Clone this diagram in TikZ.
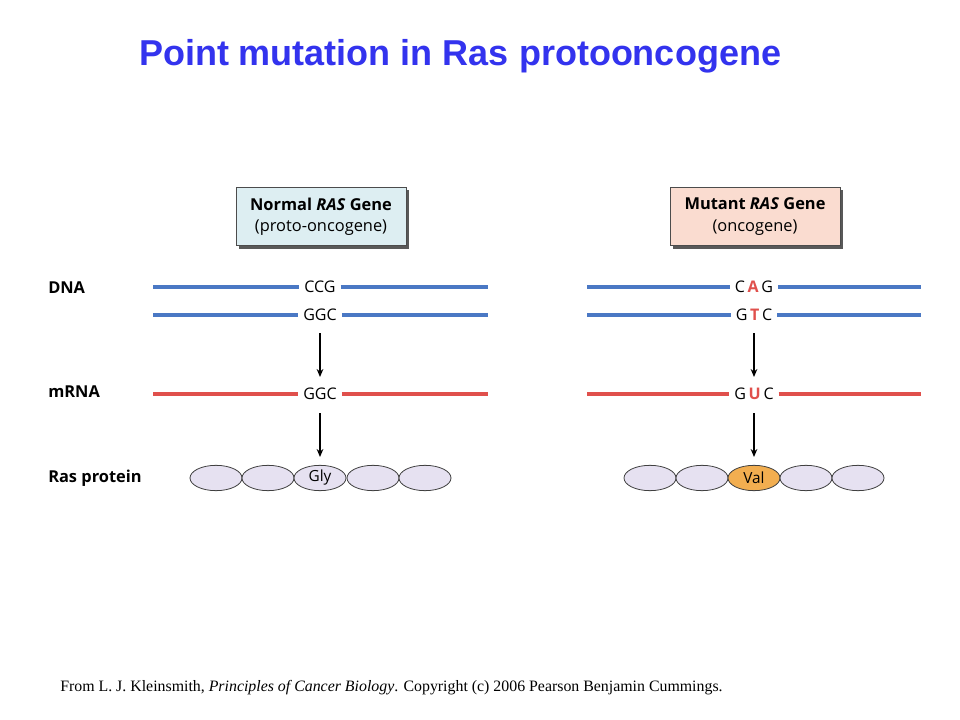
\documentclass[tikz,border=0pt]{standalone}
\usepackage{fontspec}
\setmainfont{Open Sans}
\newfontfamily\titlefont{Liberation Sans}
\newfontfamily\footfont{Liberation Serif}
\usetikzlibrary{shapes.geometric,arrows.meta}
\definecolor{titleblue}{HTML}{3333EE}
\definecolor{dnablue}{HTML}{4A78C4}
\definecolor{rnared}{HTML}{E0504C}
\definecolor{normfill}{HTML}{DDEEF2}
\definecolor{mutfill}{HTML}{FADCD0}
\definecolor{resfill}{HTML}{E6E1F1}
\definecolor{valfill}{HTML}{F2AE50}
\definecolor{mutred}{HTML}{E0504C}
\tikzset{
  dnaline/.style={draw=dnablue, line width=3pt},
  rnaline/.style={draw=rnared, line width=3pt},
  codon/.style={font=\fontsize{12}{14}\selectfont, inner xsep=3.6pt, inner ysep=1pt},
  rowlabel/.style={font=\fontsize{12.3}{14}\bfseries\selectfont, anchor=west, inner sep=0pt},
  genebox/.style={draw=black!70, line width=0.6pt, minimum width=127.5pt, minimum height=44pt, align=center, font=\fontsize{12.3}{16}\selectfont},
  residue/.style={ellipse, draw=black!75, line width=0.6pt, fill=resfill, minimum width=39pt, minimum height=19pt, inner sep=0pt, font=\fontsize{11.5}{13}\selectfont},
  flow/.style={-{Stealth[length=6pt,width=5pt]}, line width=1pt},
}
\begin{document}
\begin{tikzpicture}[x=0.75pt,y=-0.75pt]
\useasboundingbox (0,0) rectangle (960,720);
\fill[white] (0,0) rectangle (960,720);
% title
\node[font=\titlefont\fontsize{27}{31}\bfseries\selectfont, text=titleblue] (title) at (460,56) {Point mutation in Ras protooncogene};
% boxes with shadow
\fill[black!65] (239,190) rectangle (409,249);
\node[genebox, fill=normfill] (normal) at (321,216.5) {\raisebox{-2pt}{\textbf{Normal \textit{RAS} Gene}}\\\raisebox{-2pt}{(proto-oncogene)}};
\fill[black!65] (673,190) rectangle (843,249);
\node[genebox, fill=mutfill] (mutant) at (755,216.5) {\raisebox{-2pt}{\textbf{Mutant \textit{RAS} Gene}}\\\raisebox{-2pt}{(oncogene)}};
% row labels
\node[rowlabel] (dnalab) at (48,288) {DNA};
\node[rowlabel] (mrnalab) at (48,392) {mRNA};
\node[rowlabel] (protlab) at (48,478) {Ras protein};
% left column
\node[codon] (lc1) at (320,287) {CCG};
\node[codon] (lc2) at (320,315) {GGC};
\node[codon] (lr) at (320,394) {GGC};
\coordinate (l1a) at (153,287); \coordinate (l1b) at (488,287);
\coordinate (l2a) at (153,315); \coordinate (l2b) at (488,315);
\coordinate (l3a) at (153,394); \coordinate (l3b) at (488,394);
\draw[dnaline] (l1a) -- (lc1.west |- l1a);
\draw[dnaline] (lc1.east |- l1b) -- (l1b);
\draw[dnaline] (l2a) -- (lc2.west |- l2a);
\draw[dnaline] (lc2.east |- l2b) -- (l2b);
\draw[rnaline] (l3a) -- (lr.west |- l3a);
\draw[rnaline] (lr.east |- l3b) -- (l3b);
% right column
\node[codon] (rc1) at (754,287) {C\,\textcolor{mutred}{\bfseries A}\,G};
\node[codon] (rc2) at (754,315) {G\,\textcolor{mutred}{\bfseries T}\,C};
\node[codon] (rr) at (754,394) {G\,\textcolor{mutred}{\bfseries U}\,C};
\coordinate (r1a) at (587,287); \coordinate (r1b) at (921,287);
\coordinate (r2a) at (587,315); \coordinate (r2b) at (921,315);
\coordinate (r3a) at (587,394); \coordinate (r3b) at (921,394);
\draw[dnaline] (r1a) -- (rc1.west |- r1a);
\draw[dnaline] (rc1.east |- r1b) -- (r1b);
\draw[dnaline] (r2a) -- (rc2.west |- r2a);
\draw[dnaline] (rc2.east |- r2b) -- (r2b);
\draw[rnaline] (r3a) -- (rr.west |- r3a);
\draw[rnaline] (rr.east |- r3b) -- (r3b);
% proteins
\node[residue] (l1) at (216,478) {};
\node[residue] (l2) at (268,478) {};
\node[residue] (l3) at (320,478) {Gly};
\node[residue] (l4) at (373,478) {};
\node[residue] (l5) at (425,478) {};
\node[residue] (r1) at (650,478) {};
\node[residue] (r2) at (702,478) {};
\node[residue, fill=valfill] (r3) at (754,478) {Val};
\node[residue] (r4) at (806,478) {};
\node[residue] (r5) at (858,478) {};
% arrows
\draw[flow] ([yshift=-13.5pt]lc2.center) -- ([yshift=12.75pt]lr.center);
\draw[flow] ([yshift=-14.25pt]lr.center) -- ([yshift=15.75pt]l3.center);
\draw[flow] ([yshift=-13.5pt]rc2.center) -- ([yshift=12.75pt]rr.center);
\draw[flow] ([yshift=-14.25pt]rr.center) -- ([yshift=15.75pt]r3.center);
% footer
\node[font=\footfont\fontsize{11.9}{14}\selectfont, anchor=west, inner sep=0pt] (foot) at (60,688) {From L. J. Kleinsmith, \textit{Principles of Cancer Biology}. Copyright (c) 2006 Pearson Benjamin Cummings.};
\end{tikzpicture}
\end{document}
